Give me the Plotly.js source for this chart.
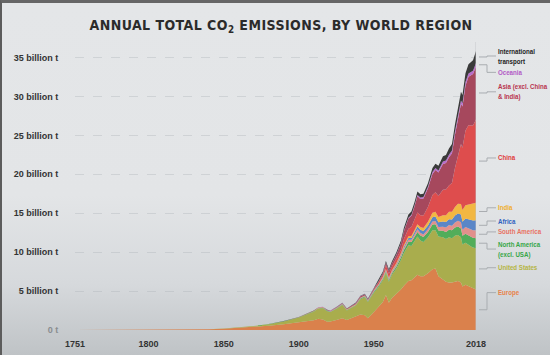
<!DOCTYPE html>
<html>
<head>
<meta charset="utf-8">
<script src="https://cdn.plot.ly/plotly-3.0.1.min.js"></script>
<style>
  html, body { margin:0; padding:0; }
  body {
    width:550px; height:355px; overflow:hidden; box-sizing:border-box;
    background: linear-gradient(180deg, #e4e6e8 0%, #e3e5e7 55%, #d6d9dc 80%, #bfc3c6 100%);
    border-left: 2px solid #5c5c5c; border-top: 3px solid #666;
  }
  #chart { position:absolute; left:0; top:0; width:550px; height:355px; }
  .gtitle { letter-spacing: 0.45px; }
  .annotation-text { transform-box: fill-box; transform-origin: 0% 50%; transform: scaleX(0.77); }
</style>
</head>
<body>
<div id="chart"></div>
<script>
// ---- data (billion tonnes CO2 per year) ----
const years = [1751,1780,1800,1820,1840,1850,1860,1870,1880,1890,1900,1905,1910,1913,1916,1919,1921,1925,1929,1932,1935,1938,1941,1944,1946,1950,1953,1956,1958,1960,1962,1965,1968,1970,1973,1975,1977,1979,1981,1983,1986,1989,1991,1993,1996,1998,2000,2002,2004,2006,2008,2009,2011,2013,2015,2016,2018];

const europe = [0.009,0.015,0.027,0.045,0.10, 0.17,0.28,0.40,0.55,0.75, 1.0,1.1,1.25,1.45,1.35, 1.05,1.1,1.3,1.5,1.3, 1.5,1.75,2.0,1.9,1.5, 2.3,2.9,3.6,4.5,3.5, 4.1,4.6,5.2,5.7,6.3, 6.4,6.7,7.1,6.9,6.9, 7.3,7.8,7.9,6.9,6.5, 6.2,6.1,6.1,6.2,6.3, 6.1,5.6,5.8,5.6,5.4, 5.4,5.2];
const unitedStates = [0,0.0005,0.0006,0.002,0.01, 0.02,0.05,0.1,0.2,0.35, 0.6,0.85,1.1,1.3,1.45, 1.35,1.2,1.4,1.7,1.2, 1.35,1.4,1.95,2.3,2.1, 2.5,2.6,2.8,2.85,2.7, 3.0,3.3,3.8,4.2,4.6, 4.4,4.7,4.9,4.6,4.4, 4.6,5.0,4.9,5.1,5.4, 5.5,5.8,5.7,5.9,5.9, 5.8,5.4,5.4,5.3,5.3, 5.2,5.3];
const northAmericaExUSA = [0,0,0,0,0.0002, 0.0005,0.001,0.003,0.006,0.012, 0.025,0.035,0.05,0.06,0.06, 0.06,0.06,0.065,0.08,0.065, 0.07,0.075,0.09,0.1,0.1, 0.12,0.14,0.16,0.17,0.18, 0.2,0.26,0.32,0.38,0.45, 0.5,0.55,0.6,0.63,0.64, 0.68,0.75,0.77,0.79,0.85, 0.9,0.98,1.0,1.07,1.1, 1.15,1.1,1.18,1.22,1.25, 1.26,1.3];
const southAmerica = [0,0,0,0,0, 0.0002,0.0005,0.001,0.002,0.004, 0.008,0.011,0.015,0.02,0.018, 0.02,0.022,0.025,0.032,0.028, 0.032,0.038,0.042,0.045,0.05, 0.07,0.09,0.11,0.13,0.14, 0.15,0.17,0.2,0.22,0.26, 0.28,0.3,0.34,0.34,0.32, 0.36,0.4,0.42,0.45,0.52, 0.56,0.6,0.6,0.65,0.72, 0.78,0.78,0.86,0.95,0.98, 0.97,1.0];
const africa = [0,0,0,0,0, 0,0.0001,0.0003,0.0008,0.002, 0.004,0.006,0.008,0.01,0.011, 0.012,0.013,0.016,0.02,0.019, 0.022,0.026,0.03,0.034,0.038, 0.05,0.06,0.075,0.085,0.1, 0.11,0.13,0.15,0.18,0.22, 0.25,0.3,0.35,0.42,0.45, 0.5,0.55,0.58,0.6,0.66, 0.7,0.75,0.8,0.88,0.95, 1.0,1.03,1.08,1.15,1.22, 1.25,1.3];
const india = [0,0,0,0,0, 0,0.0002,0.0008,0.002,0.005, 0.01,0.013,0.016,0.02,0.022, 0.022,0.023,0.025,0.03,0.028, 0.03,0.033,0.035,0.038,0.04, 0.06,0.07,0.085,0.1,0.12, 0.13,0.16,0.18,0.2,0.23, 0.25,0.28,0.3,0.35,0.4, 0.46,0.55,0.62,0.68,0.8, 0.88,0.95,1.0,1.1,1.25, 1.35,1.5,1.7,1.9,2.05, 2.1,2.25];
const china = [0,0,0,0,0, 0,0,0,0,0.0003, 0.001,0.002,0.004,0.005,0.006, 0.008,0.008,0.01,0.01,0.012, 0.015,0.02,0.035,0.03,0.02, 0.08,0.14,0.25,0.5,0.48, 0.44,0.5,0.45,0.8,0.95, 1.15,1.3,1.5,1.5,1.6, 1.9,2.3,2.5,2.7,3.3, 3.3,3.4,3.7,5.0,6.3, 7.7,8.0,9.6,10.2,10.1, 10.1,10.7];
const asiaExChinaIndia = [0,0,0,0,0, 0.0005,0.001,0.003,0.006,0.012, 0.02,0.026,0.035,0.04,0.045, 0.05,0.055,0.065,0.08,0.075, 0.09,0.11,0.15,0.12,0.05, 0.15,0.2,0.25,0.3,0.35, 0.4,0.55,0.8,1.0,1.3, 1.45,1.7,2.1,2.1,2.2, 2.4,2.7,2.85,3.0,3.3, 3.4,3.6,3.8,4.3,4.8, 5.2,5.3,5.8,6.2,6.5, 6.6,6.8];
const oceania = [0,0,0,0,0, 0.0002,0.0005,0.001,0.002,0.003, 0.005,0.006,0.008,0.01,0.01, 0.011,0.011,0.013,0.015,0.013, 0.015,0.017,0.02,0.022,0.024, 0.03,0.035,0.04,0.045,0.05, 0.055,0.065,0.08,0.1,0.12, 0.13,0.14,0.16,0.18,0.19, 0.21,0.25,0.26,0.28,0.31, 0.33,0.35,0.37,0.39,0.41, 0.42,0.43,0.43,0.43,0.44, 0.44,0.45];
const internationalTransport = [0,0,0,0,0, 0,0,0,0.001,0.003, 0.01,0.012,0.016,0.02,0.018, 0.02,0.022,0.028,0.04,0.035, 0.04,0.05,0.06,0.07,0.08, 0.1,0.12,0.15,0.17,0.19, 0.21,0.25,0.3,0.35,0.42, 0.4,0.42,0.45,0.42,0.4, 0.44,0.5,0.55,0.6,0.68, 0.72,0.8,0.82,0.9,1.0, 1.1,1.05,1.15,1.2,1.3, 1.35,1.55];

const seriesNames = ["Europe","United States","North America<br>(excl. USA)","South America","Africa","India","China","Asia (excl. China<br>& India)","Oceania","International<br>transport"];
const yTickVals = [0,5,10,15,20,25,30,35];
const yTickText = ["<span style='color:#8a8d90'>0 t</span>","5 billion t","10 billion t","15 billion t","20 billion t","25 billion t","30 billion t","35 billion t"];
const xTickVals = [1751,1800,1850,1900,1950,2018];

// ---- styling (kept apart from data) ----
const series = [europe, unitedStates, northAmericaExUSA, southAmerica, africa, india, china, asiaExChinaIndia, oceania, internationalTransport];
const fills = ["#da814c","#a9ad4d","#52ad5a","#e2908c","#5a86c7","#f2b742","#de4d4d","#a6485d","#b86ccc","#3a3a3a"];
const labelColors = ["#e8834a","#b5b544","#36a648","#e87262","#2f62c0","#f0ae2c","#e03a3a","#b8344e","#b25ac6","#222222"];
const labelPos = [4.8, 8.0, 10.4, 12.6, 14.0, 15.7, 22.1, 30.6, 33.1, 35.2];

const traces = series.map((s, i) => ({
  x: years, y: s, type: 'scatter', mode: 'lines', stackgroup: 'one',
  name: seriesNames[i].replace('<br>',' '),
  line: {width: 0, color: fills[i]}, fillcolor: fills[i], hoverinfo: 'skip'
}));

// connectors + labels, computed from the last data point of each band
const plotW = 401;
const px = d => 1 + d / plotW;
const shapes = [{type:'line', xref:'x', yref:'paper', x0:2018, x1:2018, y0:0, y1:1,
                 line:{color:'rgba(190,194,198,0.8)', width:1}}];
const annotations = [];
let cum = 0;
series.forEach((s, i) => {
  const v = s[s.length - 1];
  const mid = cum + v / 2;
  cum += v;
  const ly = labelPos[i];
  shapes.push({type:'path', xref:'paper', yref:'y',
    path:`M ${px(3)},${mid} H ${px(11)} V ${ly} H ${px(20)}`,
    line:{color:'#a9adb1', width:1}});
  annotations.push({xref:'paper', yref:'y', x:px(20), y:ly, xanchor:'left', yanchor:'middle',
    align:'left', showarrow:false, text:seriesNames[i],
    font:{family:'Liberation Sans Narrow, Arial Narrow, sans-serif', size:8, color:labelColors[i], weight:700}});
});

const layout = {
  width: 550, height: 355,
  margin: {l: 75, r: 74, t: 42, b: 24.5},
  paper_bgcolor: 'rgba(0,0,0,0)', plot_bgcolor: 'rgba(0,0,0,0)',
  showlegend: false,
  title: {text: 'ANNUAL TOTAL CO<sub>2</sub> EMISSIONS, BY WORLD REGION',
          x: 0.511, xanchor: 'center', y: 0.93, yanchor: 'middle',
          font: {family: 'DejaVu Sans Condensed, DejaVu Sans, sans-serif', size: 14, color: '#2b2b2b', weight: 700}},
  xaxis: {range: [1751, 2018], tickvals: xTickVals, ticktext: xTickVals.map(String),
          showgrid: false, zeroline: false, showline: false,
          ticks: 'outside', ticklen: 5, tickcolor: 'rgba(0,0,0,0)',
          tickfont: {family: 'Liberation Sans Narrow, sans-serif', size: 9, color: '#333', weight: 700}},
  yaxis: {range: [0, 37], tickvals: yTickVals, ticktext: yTickText,
          showgrid: true, gridcolor: 'rgba(170,175,180,0.35)', griddash: 'dash', gridwidth: 1,
          zeroline: false, showline: false,
          ticks: 'outside', ticklen: 14, tickcolor: 'rgba(0,0,0,0)',
          tickfont: {family: 'Liberation Sans Narrow, sans-serif', size: 9, color: '#333', weight: 700}},
  shapes: shapes,
  annotations: annotations
};

Plotly.newPlot('chart', traces, layout, {displayModeBar: false, staticPlot: true});
</script>
</body>
</html>
